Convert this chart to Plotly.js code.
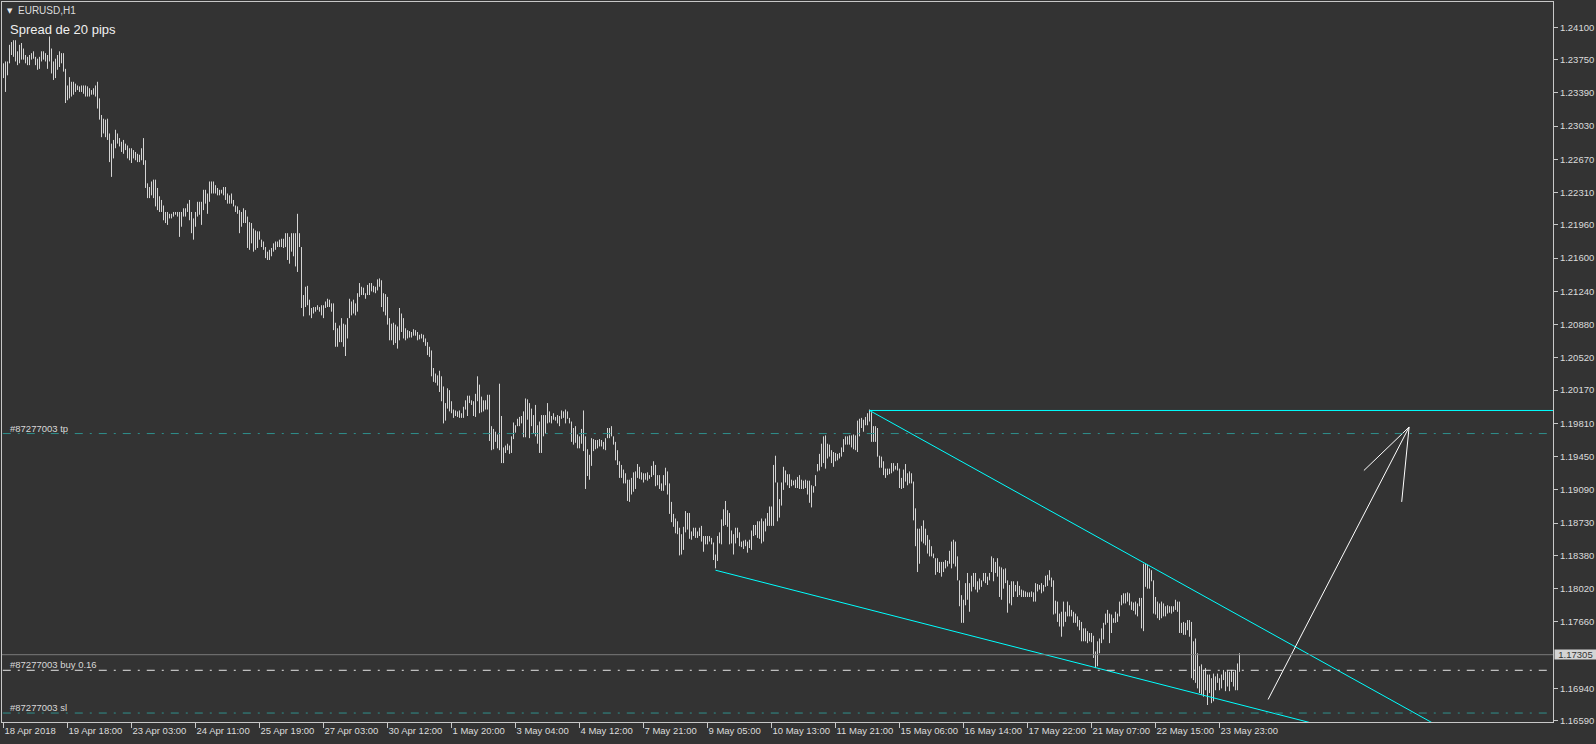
<!DOCTYPE html>
<html>
<head>
<meta charset="utf-8">
<script src="https://cdn.plot.ly/plotly-3.0.1.min.js"></script>
<style>
html,body{margin:0;padding:0;background:#333333;}
#chart{width:1596px;height:744px;}
</style>
</head>
<body>
<div id="chart"></div>
<script>
// ---- data (EURUSD H1, bar index 0 = 18 Apr 2018 10:00) ----
const dateLabels = ['18 Apr 2018','19 Apr 18:00','23 Apr 03:00','24 Apr 11:00','25 Apr 19:00','27 Apr 03:00','30 Apr 12:00','1 May 20:00','3 May 04:00','4 May 12:00','7 May 21:00','9 May 05:00','10 May 13:00','11 May 21:00','15 May 06:00','16 May 14:00','17 May 22:00','21 May 07:00','22 May 15:00','23 May 23:00'];
const dateLabelBars = [0,32,64,96,128,160,192,224,256,288,320,352,384,416,448,480,512,544,576,608];
const priceTicks = [1.24100,1.23750,1.23390,1.23030,1.22670,1.22310,1.21960,1.21600,1.21240,1.20880,1.20520,1.20170,1.19810,1.19450,1.19090,1.18730,1.18380,1.18020,1.17660,1.16940,1.16590];

const barHigh = [
1.2371,1.2373,1.2373,1.2391,1.2394,1.2396,1.2396,1.2384,1.2391,1.2393,
1.2387,1.2380,1.2378,1.2380,1.2382,1.2384,1.2378,1.2376,1.2378,1.2384,
1.2384,1.2382,1.2380,1.2400,1.2387,1.2373,1.2376,1.2380,1.2384,1.2382,
1.2382,1.2365,1.2347,1.2356,1.2351,1.2351,1.2349,1.2347,1.2346,1.2347,
1.2347,1.2347,1.2346,1.2344,1.2342,1.2344,1.2347,1.2351,1.2333,1.2315,
1.2311,1.2310,1.2311,1.2295,1.2284,1.2288,1.2299,1.2295,1.2290,1.2286,
1.2288,1.2284,1.2282,1.2279,1.2279,1.2277,1.2275,1.2273,1.2272,1.2279,
1.2290,1.2266,1.2241,1.2237,1.2243,1.2245,1.2245,1.2236,1.2227,1.2223,
1.2217,1.2210,1.2210,1.2208,1.2208,1.2210,1.2210,1.2210,1.2210,1.2210,
1.2214,1.2214,1.2219,1.2223,1.2210,1.2203,1.2210,1.2221,1.2221,1.2221,
1.2234,1.2234,1.2230,1.2243,1.2243,1.2243,1.2239,1.2236,1.2234,1.2234,
1.2237,1.2237,1.2230,1.2228,1.2230,1.2223,1.2217,1.2216,1.2212,1.2210,
1.2214,1.2212,1.2205,1.2199,1.2198,1.2192,1.2190,1.2189,1.2189,1.2180,
1.2178,1.2172,1.2167,1.2169,1.2171,1.2176,1.2178,1.2178,1.2180,1.2181,
1.2181,1.2187,1.2187,1.2183,1.2187,1.2187,1.2187,1.2208,1.2187,1.2172,
1.2120,1.2129,1.2130,1.2115,1.2106,1.2107,1.2107,1.2109,1.2107,1.2109,
1.2109,1.2113,1.2116,1.2115,1.2111,1.2111,1.2090,1.2084,1.2087,1.2095,
1.2089,1.2088,1.2095,1.2116,1.2113,1.2115,1.2111,1.2122,1.2133,1.2129,
1.2128,1.2122,1.2131,1.2133,1.2133,1.2130,1.2129,1.2137,1.2138,1.2136,
1.2122,1.2121,1.2118,1.2095,1.2089,1.2090,1.2088,1.2086,1.2106,1.2100,
1.2095,1.2084,1.2082,1.2081,1.2080,1.2083,1.2082,1.2080,1.2077,1.2078,
1.2077,1.2073,1.2069,1.2064,1.2060,1.2041,1.2035,1.2033,1.2038,1.2032,
1.2021,1.2003,1.2019,1.2017,1.2005,1.1996,1.1995,1.1994,1.1995,1.1992,
1.1999,1.2006,1.2011,1.2011,1.2006,1.2005,1.2013,1.2032,1.2023,1.2010,
1.2006,1.2006,1.2012,1.2012,1.1978,1.1975,1.1972,1.1969,1.2024,1.1989,
1.1955,1.1957,1.1959,1.1957,1.1967,1.1982,1.1979,1.1986,1.1988,1.1989,
1.1994,1.2008,1.2007,1.2003,1.1997,1.1990,1.2001,1.1979,1.1983,1.1990,
1.1990,1.1990,1.2003,1.1994,1.1989,1.1992,1.1988,1.1990,1.1989,1.1995,
1.1994,1.1996,1.1994,1.1987,1.1983,1.1976,1.1978,1.1969,1.1967,1.1975,
1.1995,1.1967,1.1953,1.1947,1.1965,1.1964,1.1963,1.1963,1.1964,1.1963,
1.1961,1.1965,1.1976,1.1976,1.1978,1.1967,1.1961,1.1952,1.1940,1.1936,
1.1931,1.1927,1.1920,1.1920,1.1922,1.1928,1.1929,1.1937,1.1934,1.1928,
1.1927,1.1927,1.1928,1.1925,1.1935,1.1940,1.1936,1.1925,1.1925,1.1916,
1.1925,1.1933,1.1929,1.1916,1.1896,1.1883,1.1878,1.1875,1.1868,1.1861,
1.1869,1.1886,1.1884,1.1884,1.1864,1.1868,1.1868,1.1864,1.1868,1.1870,
1.1859,1.1859,1.1859,1.1859,1.1857,1.1852,1.1839,1.1859,1.1863,1.1877,
1.1888,1.1897,1.1887,1.1884,1.1865,1.1861,1.1868,1.1868,1.1863,1.1853,
1.1854,1.1855,1.1853,1.1855,1.1865,1.1871,1.1871,1.1875,1.1875,1.1878,
1.1875,1.1878,1.1884,1.1891,1.1891,1.1936,1.1946,1.1917,1.1899,1.1917,
1.1934,1.1930,1.1926,1.1926,1.1920,1.1919,1.1920,1.1923,1.1925,1.1920,
1.1919,1.1920,1.1919,1.1919,1.1914,1.1913,1.1925,1.1937,1.1948,1.1959,
1.1967,1.1968,1.1959,1.1958,1.1952,1.1950,1.1949,1.1948,1.1949,1.1955,
1.1964,1.1967,1.1967,1.1968,1.1968,1.1969,1.1968,1.1984,1.1986,1.1987,
1.1985,1.1988,1.1992,1.1996,1.1993,1.1978,1.1978,1.1976,1.1946,1.1945,
1.1940,1.1932,1.1932,1.1932,1.1938,1.1938,1.1935,1.1938,1.1932,1.1922,
1.1931,1.1937,1.1927,1.1929,1.1927,1.1918,1.1889,1.1867,1.1867,1.1870,
1.1876,1.1867,1.1860,1.1855,1.1848,1.1840,1.1835,1.1835,1.1831,1.1831,
1.1831,1.1833,1.1832,1.1843,1.1853,1.1855,1.1853,1.1837,1.1811,1.1795,
1.1790,1.1808,1.1819,1.1808,1.1816,1.1819,1.1819,1.1810,1.1813,1.1811,
1.1819,1.1819,1.1815,1.1819,1.1837,1.1835,1.1831,1.1835,1.1826,1.1825,
1.1823,1.1824,1.1811,1.1806,1.1810,1.1810,1.1806,1.1810,1.1805,1.1801,
1.1800,1.1799,1.1798,1.1798,1.1799,1.1798,1.1808,1.1807,1.1806,1.1808,
1.1806,1.1816,1.1817,1.1822,1.1814,1.1811,1.1789,1.1788,1.1775,1.1777,
1.1788,1.1777,1.1788,1.1784,1.1779,1.1777,1.1775,1.1772,1.1768,1.1766,
1.1759,1.1759,1.1756,1.1754,1.1754,1.1751,1.1734,1.1745,1.1748,1.1759,
1.1765,1.1775,1.1779,1.1775,1.1774,1.1770,1.1777,1.1775,1.1788,1.1795,
1.1797,1.1797,1.1798,1.1797,1.1788,1.1787,1.1788,1.1786,1.1792,1.1792,
1.1829,1.1829,1.1828,1.1824,1.1822,1.1811,1.1793,1.1788,1.1786,1.1788,
1.1786,1.1783,1.1784,1.1783,1.1783,1.1783,1.1790,1.1788,1.1788,1.1765,
1.1766,1.1765,1.1768,1.1768,1.1766,1.1745,1.1748,1.1732,1.1718,1.1720,
1.1714,1.1716,1.1709,1.1709,1.1705,1.1710,1.1707,1.1710,1.1705,1.1709,
1.1714,1.1712,1.1714,1.1712,1.1714,1.1712,1.1714,1.1721,1.1732];

const barLow = [
1.2355,1.2340,1.2358,1.2371,1.2380,1.2378,1.2373,1.2369,1.2371,1.2375,
1.2375,1.2371,1.2369,1.2369,1.2375,1.2376,1.2369,1.2364,1.2365,1.2373,
1.2375,1.2373,1.2365,1.2373,1.2360,1.2353,1.2355,1.2364,1.2367,1.2371,
1.2362,1.2328,1.2331,1.2333,1.2335,1.2337,1.2340,1.2342,1.2340,1.2340,
1.2338,1.2335,1.2335,1.2335,1.2337,1.2337,1.2335,1.2322,1.2310,1.2291,
1.2295,1.2291,1.2288,1.2264,1.2248,1.2268,1.2279,1.2284,1.2281,1.2275,
1.2273,1.2277,1.2268,1.2266,1.2263,1.2268,1.2266,1.2264,1.2264,1.2266,
1.2261,1.2236,1.2225,1.2225,1.2228,1.2225,1.2216,1.2212,1.2210,1.2210,
1.2201,1.2198,1.2196,1.2203,1.2203,1.2205,1.2207,1.2205,1.2183,1.2194,
1.2205,1.2205,1.2210,1.2201,1.2187,1.2180,1.2194,1.2205,1.2207,1.2196,
1.2212,1.2219,1.2208,1.2221,1.2230,1.2230,1.2230,1.2228,1.2228,1.2230,
1.2228,1.2223,1.2219,1.2219,1.2219,1.2216,1.2210,1.2208,1.2187,1.2194,
1.2198,1.2198,1.2171,1.2169,1.2176,1.2167,1.2169,1.2171,1.2180,1.2172,
1.2169,1.2160,1.2158,1.2158,1.2162,1.2167,1.2169,1.2172,1.2172,1.2172,
1.2171,1.2172,1.2158,1.2154,1.2167,1.2162,1.2151,1.2145,1.2172,1.2106,
1.2097,1.2107,1.2109,1.2098,1.2095,1.2100,1.2102,1.2104,1.2102,1.2098,
1.2095,1.2106,1.2107,1.2107,1.2102,1.2082,1.2064,1.2064,1.2069,1.2069,
1.2064,1.2054,1.2073,1.2095,1.2098,1.2100,1.2098,1.2102,1.2118,1.2120,
1.2120,1.2116,1.2120,1.2120,1.2124,1.2123,1.2122,1.2125,1.2129,1.2107,
1.2102,1.2098,1.2088,1.2071,1.2071,1.2066,1.2068,1.2062,1.2071,1.2080,
1.2073,1.2071,1.2073,1.2074,1.2074,1.2076,1.2076,1.2071,1.2072,1.2073,
1.2069,1.2065,1.2055,1.2053,1.2032,1.2026,1.2025,1.2022,1.2015,1.2005,
1.1981,1.1984,1.1997,1.1994,1.1992,1.1987,1.1989,1.1988,1.1987,1.1987,
1.1987,1.1996,1.1989,1.2003,1.2001,1.1989,1.1988,1.2005,1.1992,1.1993,
1.1994,1.1996,1.1996,1.1962,1.1952,1.1953,1.1961,1.1954,1.1952,1.1938,
1.1938,1.1949,1.1952,1.1948,1.1949,1.1964,1.1971,1.1978,1.1978,1.1981,
1.1966,1.1966,1.1985,1.1965,1.1978,1.1970,1.1967,1.1959,1.1949,1.1949,
1.1967,1.1970,1.1981,1.1982,1.1981,1.1985,1.1984,1.1981,1.1978,1.1986,
1.1987,1.1981,1.1986,1.1981,1.1961,1.1958,1.1960,1.1954,1.1954,1.1959,
1.1951,1.1910,1.1924,1.1920,1.1935,1.1951,1.1953,1.1954,1.1956,1.1956,
1.1953,1.1952,1.1965,1.1965,1.1967,1.1958,1.1941,1.1936,1.1922,1.1922,
1.1916,1.1916,1.1897,1.1896,1.1904,1.1907,1.1910,1.1922,1.1921,1.1920,
1.1917,1.1920,1.1919,1.1921,1.1923,1.1925,1.1913,1.1914,1.1910,1.1908,
1.1908,1.1914,1.1904,1.1883,1.1874,1.1869,1.1862,1.1861,1.1838,1.1839,
1.1844,1.1863,1.1866,1.1856,1.1855,1.1859,1.1857,1.1857,1.1859,1.1853,
1.1842,1.1850,1.1850,1.1853,1.1850,1.1833,1.1824,1.1832,1.1851,1.1850,
1.1870,1.1871,1.1869,1.1850,1.1851,1.1839,1.1851,1.1857,1.1848,1.1847,
1.1845,1.1848,1.1841,1.1846,1.1844,1.1859,1.1860,1.1857,1.1856,1.1851,
1.1853,1.1864,1.1870,1.1870,1.1870,1.1870,1.1917,1.1875,1.1879,1.1892,
1.1909,1.1917,1.1914,1.1911,1.1913,1.1914,1.1911,1.1911,1.1910,1.1910,
1.1910,1.1911,1.1904,1.1895,1.1890,1.1906,1.1913,1.1929,1.1930,1.1934,
1.1938,1.1932,1.1943,1.1945,1.1938,1.1934,1.1940,1.1941,1.1943,1.1945,
1.1950,1.1958,1.1958,1.1958,1.1955,1.1953,1.1952,1.1950,1.1967,1.1976,
1.1972,1.1979,1.1979,1.1983,1.1961,1.1961,1.1961,1.1945,1.1933,1.1933,
1.1925,1.1922,1.1925,1.1926,1.1927,1.1929,1.1931,1.1930,1.1911,1.1910,
1.1911,1.1918,1.1914,1.1916,1.1916,1.1876,1.1848,1.1820,1.1829,1.1853,
1.1851,1.1849,1.1840,1.1837,1.1837,1.1835,1.1817,1.1820,1.1819,1.1815,
1.1820,1.1824,1.1826,1.1829,1.1824,1.1829,1.1826,1.1811,1.1783,1.1765,
1.1765,1.1784,1.1790,1.1777,1.1799,1.1804,1.1801,1.1798,1.1801,1.1804,
1.1810,1.1808,1.1806,1.1811,1.1820,1.1810,1.1819,1.1815,1.1793,1.1790,
1.1802,1.1808,1.1776,1.1786,1.1784,1.1793,1.1799,1.1793,1.1795,1.1793,
1.1793,1.1793,1.1793,1.1793,1.1793,1.1788,1.1788,1.1799,1.1801,1.1797,
1.1799,1.1804,1.1805,1.1811,1.1804,1.1774,1.1775,1.1766,1.1761,1.1750,
1.1761,1.1766,1.1772,1.1772,1.1772,1.1765,1.1765,1.1761,1.1757,1.1745,
1.1745,1.1745,1.1743,1.1745,1.1744,1.1727,1.1716,1.1718,1.1732,1.1743,
1.1747,1.1763,1.1765,1.1743,1.1754,1.1765,1.1765,1.1766,1.1772,1.1784,
1.1786,1.1786,1.1788,1.1784,1.1779,1.1778,1.1774,1.1772,1.1783,1.1759,
1.1756,1.1804,1.1802,1.1802,1.1810,1.1775,1.1774,1.1770,1.1768,1.1770,
1.1772,1.1772,1.1775,1.1776,1.1775,1.1777,1.1779,1.1777,1.1754,1.1754,
1.1752,1.1752,1.1757,1.1750,1.1705,1.1703,1.1700,1.1694,1.1689,1.1687,
1.1685,1.1692,1.1676,1.1689,1.1678,1.1680,1.1692,1.1700,1.1692,1.1694,
1.1703,1.1691,1.1696,1.1691,1.1701,1.1696,1.1692,1.1692,1.1712];

// order levels
const orderNames = ['#87277003 tp', '#87277003 buy 0.16', '#87277003 sl'];
const orderPrices = [1.19700, 1.17136, 1.16673];
const orderColors = ['#2f8f8c', '#e6e6e6', '#2f8f8c'];
const bidPrice = 1.17305;

// drawn trendlines (bar index, price)
const trendX0 = [433, 433, 356];
const trendY0 = [1.1995, 1.1995, 1.1822];
const trendX1 = [776, 720, 700];
const trendY1 = [1.1995, 1.1650, 1.1631];

// hand-drawn arrow (bar index, price)
const arrowX = [632.3, 702.8, 680.2, null, 702.8, 699.1];
const arrowY = [1.1682, 1.1977, 1.1930, null, 1.1977, 1.1896];

// ---- build traces ----
const segX = [], segY = [];
for (let i = 0; i < barHigh.length; i++) {
  segX.push(i, i, null);
  segY.push(barLow[i], barHigh[i], null);
}
const traces = [];
traces.push({
  type: 'scatter', mode: 'lines', x: segX, y: segY,
  line: {color: '#d4d4d4', width: 1}, hoverinfo: 'skip', connectgaps: false
});
for (let k = 0; k < trendX0.length; k++) {
  traces.push({
    type: 'scatter', mode: 'lines',
    x: [trendX0[k], trendX1[k]], y: [trendY0[k], trendY1[k]],
    line: {color: '#00ffff', width: 1}, hoverinfo: 'skip'
  });
}
traces.push({
  type: 'scatter', mode: 'lines', x: arrowX, y: arrowY,
  line: {color: '#ffffff', width: 1}, hoverinfo: 'skip', connectgaps: false
});

const font = 'Liberation Sans, Arial, sans-serif';
const shapes = [];
const annotations = [];

// bid line
shapes.push({type: 'line', xref: 'paper', x0: 0, x1: 1, yref: 'y', y0: bidPrice, y1: bidPrice,
  line: {color: '#7a7a7a', width: 1}});
// order lines
for (let k = 0; k < orderPrices.length; k++) {
  shapes.push({type: 'line', xref: 'paper', x0: 0.0005, x1: 0.997, yref: 'y', y0: orderPrices[k], y1: orderPrices[k],
    line: {color: orderColors[k], width: 1, dash: '8px,7px,2px,7px'}});
  annotations.push({xref: 'paper', x: 0, xanchor: 'left', xshift: 6, yref: 'y', y: orderPrices[k],
    yanchor: 'bottom', yshift: -2, text: orderNames[k], showarrow: false,
    font: {family: font, size: 9.5, color: '#d8d8d8'}});
}
// bid price label on the axis
annotations.push({xref: 'paper', x: 1, xanchor: 'left', xshift: 1, yref: 'y', y: bidPrice,
  yanchor: 'middle', text: bidPrice.toFixed(5), showarrow: false, bgcolor: '#d4d4d4',
  borderpad: 0, width: 41, height: 9, align: 'center', font: {family: font, size: 9.5, color: '#333333'}});
// symbol caption
annotations.push({xref: 'paper', x: 0, xanchor: 'left', xshift: 3, yref: 'paper', y: 1, yanchor: 'top', yshift: -3,
  text: '\u25BC', showarrow: false, font: {family: 'DejaVu Sans', size: 7, color: '#e8e8e8'}});
annotations.push({xref: 'paper', x: 0, xanchor: 'left', xshift: 14, yref: 'paper', y: 1, yanchor: 'top', yshift: -1,
  text: 'EURUSD,H1', showarrow: false, font: {family: font, size: 10, color: '#dcdcdc'}});
annotations.push({xref: 'paper', x: 0, xanchor: 'left', xshift: 6, yref: 'paper', y: 1, yanchor: 'top', yshift: -18,
  text: 'Spread de 20 pips', showarrow: false, font: {family: font, size: 13, color: '#f0f0f0'}});

const layout = {
  width: 1596, height: 744,
  margin: {l: 2, r: 43, t: 2, b: 22, pad: 0},
  paper_bgcolor: '#333333', plot_bgcolor: '#333333',
  showlegend: false,
  hovermode: false,
  xaxis: {
    range: [-0.75, 774.75], tickmode: 'array', tickvals: dateLabelBars, ticktext: dateLabels,
    ticks: 'outside', ticklen: 5, tickcolor: '#c8c8c8', tickwidth: 1, tickangle: 0,
    ticklabelposition: 'outside right',
    showline: true, linecolor: '#c8c8c8', linewidth: 1, mirror: true,
    showgrid: false, zeroline: false, fixedrange: true,
    tickfont: {family: font, size: 9.5, color: '#dcdcdc'}
  },
  yaxis: {
    side: 'right', range: [1.16576, 1.24374], tickmode: 'array', tickvals: priceTicks,
    ticktext: priceTicks.map(v => v.toFixed(5)),
    ticks: 'outside', ticklen: 4, tickcolor: '#c8c8c8', tickwidth: 1,
    showline: true, linecolor: '#c8c8c8', linewidth: 1, mirror: true,
    showgrid: false, zeroline: false, fixedrange: true,
    tickfont: {family: font, size: 9.5, color: '#dcdcdc'}
  },
  shapes: shapes,
  annotations: annotations
};
Plotly.newPlot('chart', traces, layout, {displayModeBar: false, staticPlot: true});
</script>
</body>
</html>
